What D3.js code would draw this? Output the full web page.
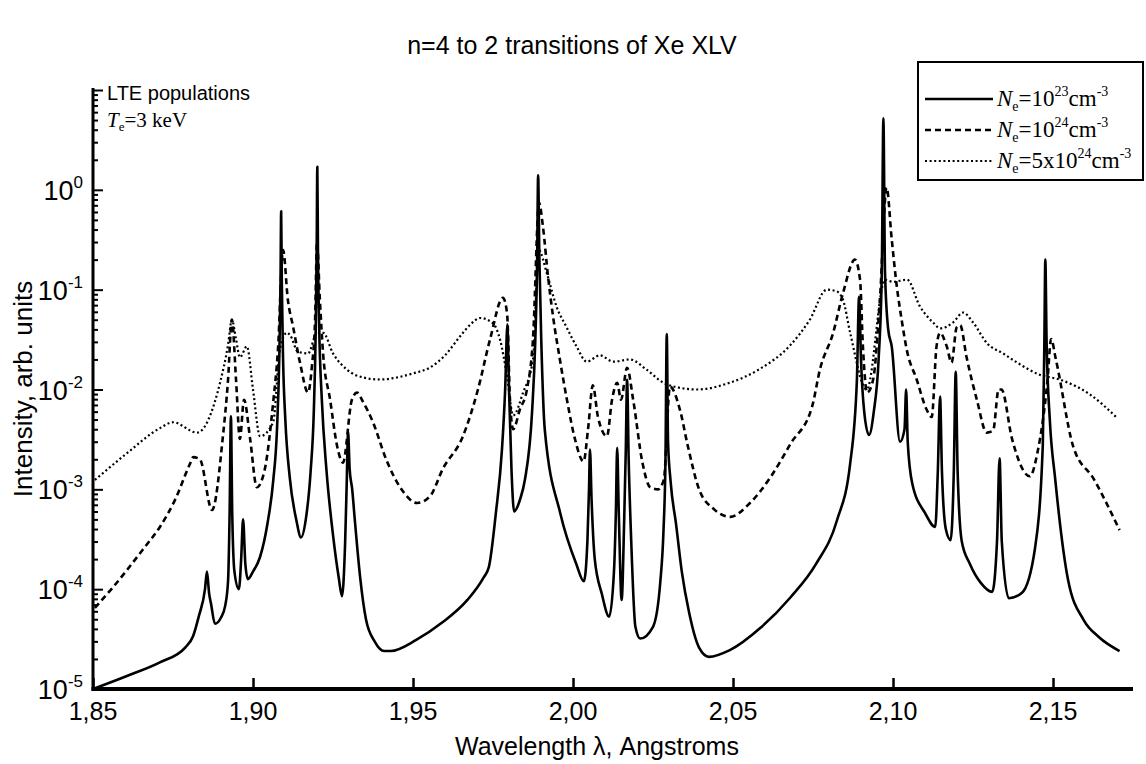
<!DOCTYPE html>
<html>
<head>
<meta charset="utf-8">
<script src="https://cdn.jsdelivr.net/npm/d3@7"></script>
<style>
  html, body { margin: 0; padding: 0; background: #fff; }
  svg { display: block; }
  text { fill: #000; }
</style>
</head>
<body>
<svg id="chart" width="1146" height="764"></svg>
<script>
// ---------------- DATA ----------------
const chartTitle = "n=4 to 2 transitions of Xe XLV";
const xAxisTitle = "Wavelength \u03bb, Angstroms";
const yAxisTitle = "Intensity, arb. units";
const xTickValues = [1.85, 1.90, 1.95, 2.00, 2.05, 2.10, 2.15];
const xTickLabels = ["1,85", "1,90", "1,95", "2,00", "2,05", "2,10", "2,15"];
const yTickExponents = [-5, -4, -3, -2, -1, 0];
const seriesNames = ["N_e=10^23", "N_e=10^24", "N_e=5x10^24"];

// Ne = 1e23 cm^-3 (solid)
const lambdaSolid = [1.8500,1.8606,1.8709,1.8788,1.8813,1.8831,1.8850,1.8856,1.8863,1.8869,1.8881,1.8900,1.8913,1.8922,1.8927,1.8931,1.8935,1.8942,1.8956,1.8963,1.8969,1.8976,1.8984,1.9000,1.9022,1.9045,1.9063,1.9075,1.9082,1.9086,1.9088,1.9090,1.9094,1.9101,1.9115,1.9135,1.9150,1.9165,1.9180,1.9190,1.9196,1.9199,1.9201,1.9203,1.9207,1.9215,1.9230,1.9250,1.9268,1.9278,1.9288,1.9293,1.9297,1.9302,1.9310,1.9318,1.9335,1.9353,1.9380,1.9410,1.9430,1.9510,1.9590,1.9670,1.9720,1.9737,1.9759,1.9778,1.9788,1.9795,1.9800,1.9808,1.9816,1.9835,1.9850,1.9872,1.9882,1.9888,1.9891,1.9895,1.9901,1.9912,1.9960,2.0010,2.0034,2.0045,2.0050,2.0053,2.0058,2.0068,2.0090,2.0113,2.0128,2.0134,2.0138,2.0143,2.0152,2.0160,2.0165,2.0169,2.0174,2.0182,2.0195,2.0210,2.0250,2.0273,2.0283,2.0289,2.0293,2.0297,2.0305,2.0322,2.0340,2.0363,2.0394,2.0425,2.0490,2.0586,2.0680,2.0760,2.0825,2.0866,2.0887,2.0894,2.0900,2.0910,2.0925,2.0940,2.0955,2.0965,2.0970,2.0975,2.0985,2.0996,2.1022,2.1036,2.1041,2.1046,2.1060,2.1100,2.1132,2.1140,2.1147,2.1153,2.1165,2.1180,2.1190,2.1196,2.1202,2.1215,2.1240,2.1275,2.1310,2.1325,2.1333,2.1340,2.1362,2.1403,2.1444,2.1468,2.1473,2.1476,2.1480,2.1490,2.1507,2.1547,2.1596,2.1644,2.1708];
const intensitySolid = [1.0e-5,1.35e-5,1.85e-5,2.6e-5,3.4e-5,5.4e-5,1.0e-4,1.5e-4,9e-5,7.1e-5,4.5e-5,5.2e-5,6.8e-5,1.2e-4,6e-4,5.4e-3,6e-4,1.5e-4,1.0e-4,2e-4,5.0e-4,1.8e-4,1.26e-4,1.5e-4,2.1e-4,4.5e-4,1.2e-3,4e-3,0.02,0.12,0.61,0.12,0.02,5e-3,1.3e-3,5e-4,3.3e-4,5e-4,1.5e-3,6e-3,0.04,0.25,1.7,0.25,0.04,8e-3,1.5e-3,3.5e-4,1.3e-4,8.5e-5,3e-4,1.2e-3,3.8e-3,1.6e-3,1.0e-3,5e-4,1.3e-4,5e-5,3e-5,2.4e-5,2.4e-5,3.1e-5,4.6e-5,7.8e-5,1.3e-4,1.66e-4,5.8e-4,2.5e-3,0.01,0.045,0.01,1.5e-3,6e-4,8e-4,1.26e-3,5.9e-3,0.03,0.2,1.4,0.2,0.03,3.9e-3,5.8e-4,1.8e-4,1.2e-4,3e-4,1.0e-3,2.5e-3,8e-4,2e-4,9e-5,5.3e-5,1.5e-4,6e-4,2.6e-3,6e-4,7.8e-5,5e-4,2.5e-3,0.0125,2e-3,3e-4,4.2e-5,3.2e-5,4.2e-5,1.2e-4,4e-4,2e-3,0.036,3e-3,1.2e-3,4.5e-4,1.5e-4,5.8e-5,2.6e-5,2.1e-5,2.45e-5,4.1e-5,8.3e-5,1.8e-4,4.9e-4,1.8e-3,0.012,0.085,0.02,6e-3,3.5e-3,6e-3,0.02,0.15,5.2,0.15,0.04,0.027,3.0e-3,4e-3,0.01,3e-3,1.15e-3,5.8e-4,4.2e-4,1.5e-3,8.5e-3,1.5e-3,4e-4,3.1e-4,1.5e-3,0.015,1.5e-3,3e-4,1.8e-4,1.15e-4,9.4e-5,3e-4,2.05e-3,3e-4,8.1e-5,9.2e-5,2.6e-4,2.7e-3,0.03,0.2,0.03,5e-3,1.26e-3,1.24e-4,4.9e-5,3.3e-5,2.4e-5];

// Ne = 1e24 cm^-3 (dashed)
const lambdaDashed = [1.8506,1.8563,1.8656,1.8709,1.8756,1.8803,1.8813,1.8834,1.8872,1.8906,1.8922,1.8934,1.8947,1.8959,1.8972,1.8991,1.9012,1.9037,1.9063,1.9078,1.9094,1.9109,1.9125,1.9147,1.9172,1.9184,1.9194,1.9200,1.9209,1.9219,1.9241,1.9263,1.9281,1.9309,1.9325,1.9344,1.9375,1.9416,1.9464,1.9513,1.9553,1.9593,1.9656,1.9703,1.9741,1.9781,1.9794,1.9803,1.9813,1.9834,1.9856,1.9875,1.9894,1.9906,1.9922,1.9938,1.9959,1.9981,2.0006,2.0033,2.0047,2.0062,2.0078,2.0106,2.0122,2.0138,2.0150,2.0169,2.0188,2.0217,2.0241,2.0266,2.0284,2.0303,2.0334,2.0359,2.0394,2.0441,2.0491,2.0553,2.0619,2.0681,2.0747,2.0772,2.0813,2.0844,2.0881,2.0897,2.0906,2.0919,2.0938,2.0959,2.0980,2.0996,2.1012,2.1027,2.1043,2.1074,2.1105,2.1121,2.1136,2.1147,2.1168,2.1183,2.1199,2.1210,2.1230,2.1262,2.1293,2.1313,2.1330,2.1339,2.1372,2.1428,2.1451,2.1483,2.1494,2.1509,2.1563,2.1628,2.1708];
const intensityDashed = [6.5e-5,1.05e-4,2.5e-4,4.2e-4,7.8e-4,1.8e-3,2.1e-3,2.0e-3,6.2e-4,3.4e-3,0.0125,0.05,0.0125,3.2e-3,7.9e-3,3.2e-3,1.05e-3,1.6e-3,7.4e-3,0.025,0.25,0.079,0.043,0.0185,9.3e-3,0.017,0.05,0.3,0.079,0.023,7.9e-3,2.7e-3,1.85e-3,7.9e-3,9.3e-3,7.5e-3,4.7e-3,2.0e-3,1.0e-3,7.3e-4,8.5e-4,1.6e-3,3.4e-3,0.01,0.032,0.083,0.058,7.9e-3,4e-3,6.3e-3,0.01,0.032,0.74,0.43,0.135,0.053,0.02,7.9e-3,3.2e-3,1.9e-3,4e-3,0.011,5.3e-3,3.4e-3,7.9e-3,0.0117,7.9e-3,0.0165,7.9e-3,1.85e-3,1.05e-3,1.0e-3,1.26e-3,0.0107,6.3e-3,2.7e-3,1.0e-3,6.3e-4,5.3e-4,7.3e-4,1.35e-3,2.9e-3,6.7e-3,0.016,0.037,0.093,0.2,0.126,0.027,9.3e-3,0.0126,0.079,1.05,0.32,0.107,0.05,0.025,0.0126,6.3e-3,5.3e-3,0.027,0.037,0.027,0.0186,0.042,0.044,0.021,7.9e-3,3.7e-3,3.9e-3,0.01,0.01,3.2e-3,1.35e-3,2.3e-3,0.0126,0.032,0.02,2.7e-3,1.26e-3,3.9e-4];

// Ne = 5e24 cm^-3 (dotted)
const lambdaDotted = [1.8506,1.8606,1.8709,1.8750,1.8825,1.8897,1.8922,1.8934,1.8947,1.8959,1.8981,1.9000,1.9022,1.9063,1.9084,1.9106,1.9116,1.9140,1.9172,1.9200,1.9219,1.9250,1.9294,1.9344,1.9397,1.9450,1.9500,1.9553,1.9600,1.9650,1.9680,1.9710,1.9750,1.9772,1.9794,1.9813,1.9844,1.9875,1.9893,1.9918,1.9949,1.9980,2.0011,2.0043,2.0084,2.0126,2.0178,2.0230,2.0282,2.0334,2.0387,2.0490,2.0580,2.0680,2.0740,2.0793,2.0824,2.0844,2.0866,2.0918,2.0975,2.1000,2.1044,2.1084,2.1125,2.1147,2.1188,2.1219,2.1250,2.1294,2.1344,2.1388,2.1460,2.1520,2.1616,2.1700];
const intensityDotted = [1.24e-3,2.3e-3,4.1e-3,4.7e-3,3.7e-3,0.0117,0.028,0.05,0.032,0.021,0.027,0.01,3.4e-3,4.7e-3,0.025,0.037,0.035,0.024,0.023,0.037,0.037,0.023,0.0158,0.0132,0.0126,0.0132,0.0145,0.0166,0.022,0.035,0.045,0.052,0.046,0.0316,0.0135,5.5e-3,9.3e-3,0.02,0.25,0.147,0.067,0.042,0.027,0.019,0.022,0.019,0.02,0.0158,0.0117,0.0104,0.01,0.0117,0.0158,0.028,0.05,0.1,0.096,0.079,0.037,0.01,0.126,0.12,0.126,0.068,0.047,0.041,0.047,0.059,0.047,0.029,0.023,0.0186,0.014,0.0126,8.9e-3,5.2e-3];

// ---------------- CHART ----------------
const svg = d3.select("#chart");
const sans = "'Liberation Sans', Arial, Helvetica, sans-serif";
const serif = "'Liberation Serif', 'Times New Roman', serif";

const x = d3.scaleLinear().domain([1.85, 2.175]).range([93, 1133]);
const y = d3.scaleLog().domain([1e-5, 10]).range([689, 90]);

const zip = (a, b) => a.map((v, i) => [v, b[i]]);
const series = [
  { name: seriesNames[0], data: zip(lambdaSolid, intensitySolid), dash: null, width: 2.6 },
  { name: seriesNames[1], data: zip(lambdaDashed, intensityDashed), dash: "6,4", width: 2.6 },
  { name: seriesNames[2], data: zip(lambdaDotted, intensityDotted), dash: "2,2.6", width: 2.2 }
];

const line = d3.line()
  .x(d => x(d[0]))
  .y(d => y(d[1]))
  .curve(d3.curveMonotoneX);

// curves
const plot = svg.append("g");
series.slice().reverse().forEach(s => {
  plot.append("path")
    .datum(s.data)
    .attr("fill", "none")
    .attr("stroke", "#000")
    .attr("stroke-width", s.width)
    .attr("stroke-dasharray", s.dash)
    .attr("stroke-linejoin", "round")
    .attr("d", line);
});

// y axis: minor + major ticks (inward)
const minorVals = [];
for (let e = -5; e < 1; e++) for (let m = 2; m <= 9; m++) minorVals.push(m * Math.pow(10, e));
const majorVals = [1e-5, 1e-4, 1e-3, 1e-2, 1e-1, 1, 10];

const yMinor = svg.append("g").attr("transform", "translate(93,0)")
  .call(d3.axisLeft(y).tickValues(minorVals).tickSize(-5).tickFormat(""));
const yMajor = svg.append("g").attr("transform", "translate(93,0)")
  .call(d3.axisLeft(y).tickValues(majorVals).tickSize(-10).tickFormat(""));
[yMinor, yMajor].forEach(g => {
  g.selectAll(".tick line").attr("stroke", "#000").attr("stroke-width", 2);
  g.select(".domain").remove();
});

// x axis ticks (inward)
const xAxisG = svg.append("g").attr("transform", "translate(0,689)")
  .call(d3.axisBottom(x).tickValues(xTickValues).tickSize(-11).tickFormat(""));
xAxisG.selectAll(".tick line").attr("stroke", "#000").attr("stroke-width", 2.5);
xAxisG.select(".domain").remove();

// axis lines
svg.append("line").attr("x1", 93).attr("x2", 93).attr("y1", y(10) - 2).attr("y2", 691)
  .attr("stroke", "#000").attr("stroke-width", 3);
svg.append("line").attr("x1", 91.5).attr("x2", x(2.175)).attr("y1", 689).attr("y2", 689)
  .attr("stroke", "#000").attr("stroke-width", 4);

// y tick labels 10^n
yTickExponents.forEach(e => {
  const t = svg.append("text")
    .attr("x", 83).attr("y", y(Math.pow(10, e)) + 10)
    .attr("text-anchor", "end")
    .attr("font-family", sans).attr("font-size", 27);
  t.append("tspan").text("10");
  t.append("tspan").attr("dy", -12).attr("font-size", 17).text(String(e));
});

// x tick labels
xTickValues.forEach((v, i) => {
  svg.append("text")
    .attr("x", x(v)).attr("y", 720)
    .attr("text-anchor", "middle")
    .attr("font-family", sans).attr("font-size", 25)
    .text(xTickLabels[i]);
});

// titles
svg.append("text").attr("x", 572).attr("y", 54).attr("text-anchor", "middle")
  .attr("font-family", sans).attr("font-size", 25).text(chartTitle);
svg.append("text").attr("x", 597).attr("y", 755).attr("text-anchor", "middle")
  .attr("font-family", sans).attr("font-size", 25).text(xAxisTitle);
svg.append("text").attr("transform", "translate(32,389) rotate(-90)")
  .attr("text-anchor", "middle")
  .attr("font-family", sans).attr("font-size", 26).text(yAxisTitle);

// annotation
svg.append("text").attr("x", 107).attr("y", 100)
  .attr("font-family", sans).attr("font-size", 20).text("LTE populations");
const te = svg.append("text").attr("x", 107).attr("y", 127)
  .attr("font-family", serif).attr("font-size", 21);
te.append("tspan").attr("font-style", "italic").text("T");
te.append("tspan").attr("dy", 4).attr("font-size", 13).text("e");
te.append("tspan").attr("dy", -4).text("=3 keV");

// legend
const lg = svg.append("g");
lg.append("rect").attr("x", 918).attr("y", 62).attr("width", 225).attr("height", 118)
  .attr("fill", "#fff").attr("stroke", "#000").attr("stroke-width", 2);
const legendRows = [
  { y: 99, exp: "23", pre: "10" },
  { y: 130, exp: "24", pre: "10" },
  { y: 161, exp: "24", pre: "5x10" }
];
legendRows.forEach((r, i) => {
  lg.append("line").attr("x1", 925).attr("x2", 993).attr("y1", r.y).attr("y2", r.y)
    .attr("stroke", "#000").attr("stroke-width", series[i].width)
    .attr("stroke-dasharray", series[i].dash);
  const t = lg.append("text").attr("x", 997).attr("y", r.y + 7)
    .attr("font-family", serif).attr("font-size", 23);
  t.append("tspan").attr("font-style", "italic").text("N");
  t.append("tspan").attr("dy", 5).attr("font-size", 14).text("e");
  t.append("tspan").attr("dy", -5).text("=" + r.pre);
  t.append("tspan").attr("dy", -10).attr("font-size", 14).text(r.exp);
  t.append("tspan").attr("dy", 10).text("cm");
  t.append("tspan").attr("dy", -10).attr("font-size", 14).text("-3");
});
</script>
</body>
</html>
